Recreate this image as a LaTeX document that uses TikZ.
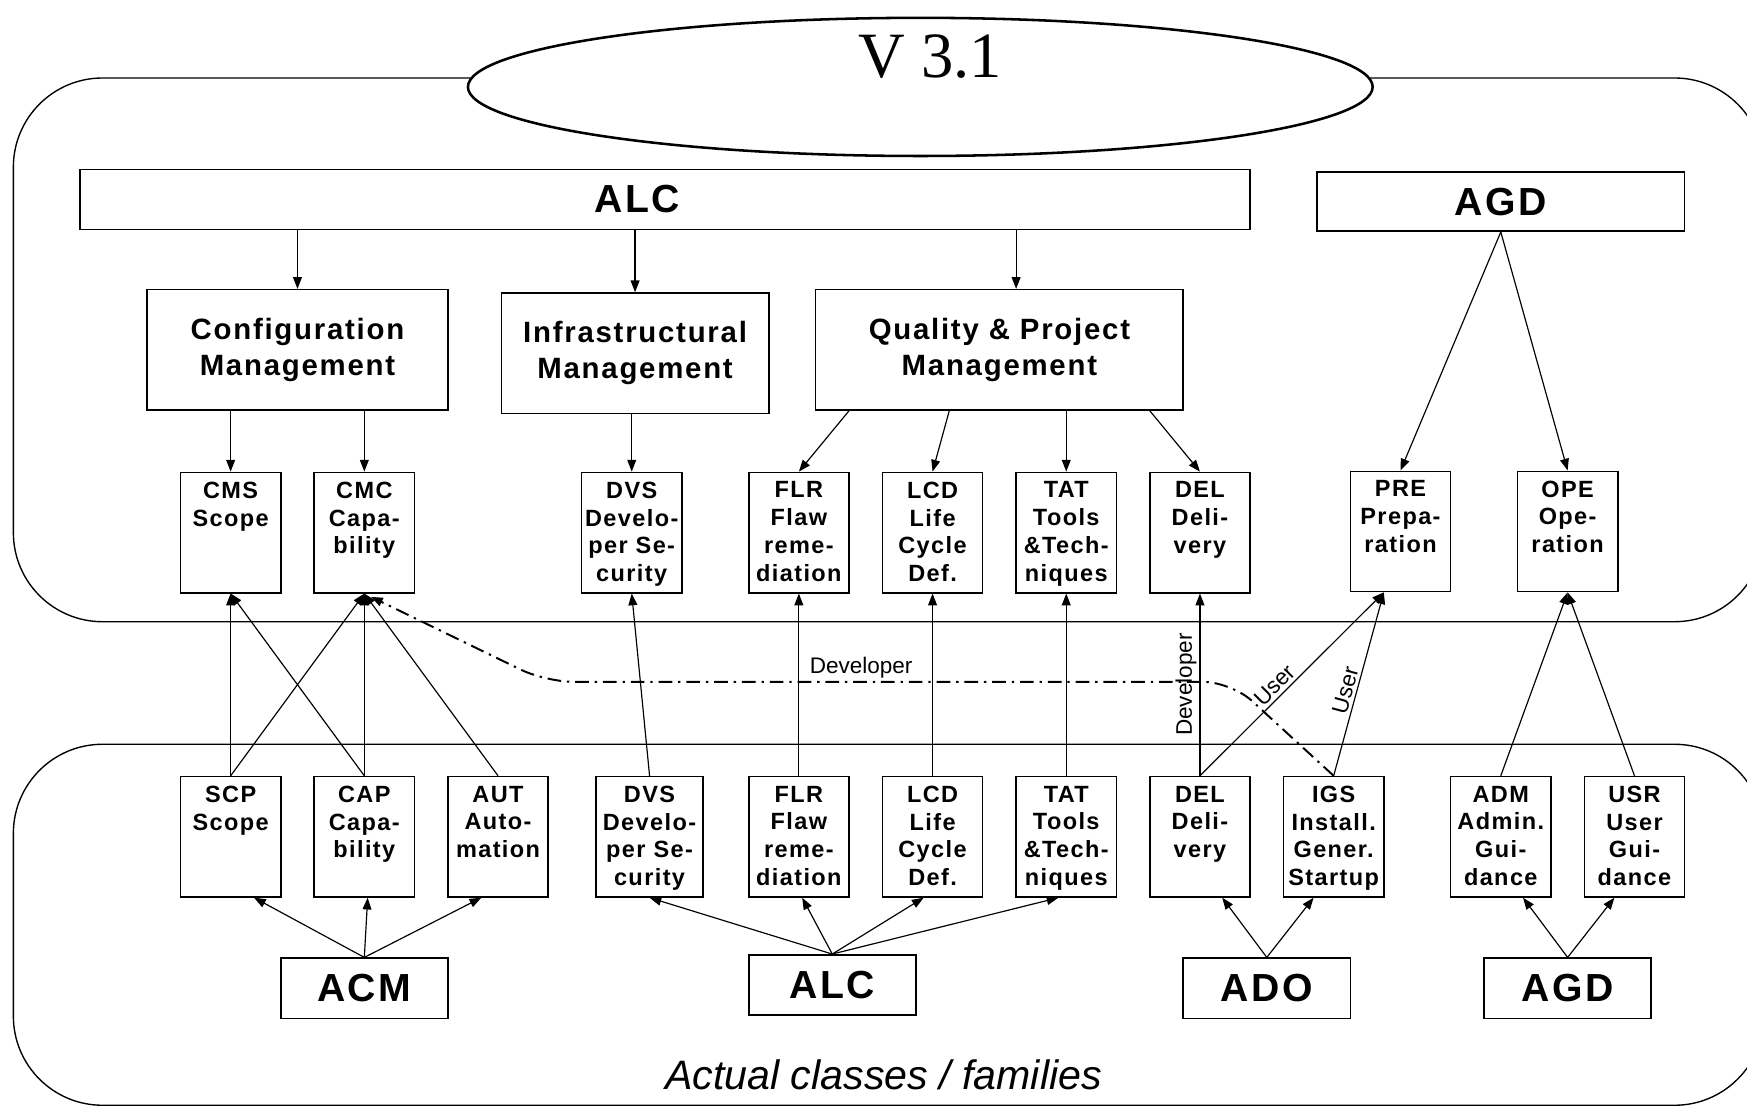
\documentclass[tikz,border=0pt]{standalone}
\usepackage{fontspec}
\setmainfont{Liberation Sans}[BoldFeatures={LetterSpace=6}]
\newfontfamily\verfont{Liberation Serif}
\usetikzlibrary{positioning,arrows.meta,calc,shapes.geometric}

\begin{document}
\begin{tikzpicture}[x=0.2mm, y=-0.2mm,
  fam/.style={draw, line width=0.8pt, minimum width=1.8cm, minimum height=2.16cm, inner sep=0pt},
  famtxt/.style={anchor=north, align=center, inner xsep=0pt, inner ysep=5pt,
                 font=\bfseries\fontsize{12}{14.2}\selectfont},
  mgmt/.style={draw, line width=0.8pt, minimum height=2.16cm, align=center,
               font=\bfseries\fontsize{15}{18.2}\selectfont},
  cls/.style={draw, line width=0.8pt, minimum width=3cm, minimum height=1.08cm,
              font=\bfseries\fontsize{20}{24}\selectfont},
  frame/.style={draw, line width=0.7pt, rounded corners=1.6cm},
  arr/.style={-{Triangle[length=6pt,width=4.5pt]}, line width=0.6pt},
  devline/.style={arr, line width=1pt, dash pattern=on 7pt off 3pt on 1.2pt off 3pt,
                  rounded corners=0.5cm},
  lbl/.style={font=\fontsize{11.5}{13}\selectfont, inner sep=1.5pt}
]
\useasboundingbox (0,0) rectangle (1568,994);
\clip (0,0) rectangle (1568,994);

% frames
\draw[frame] (12,70) rectangle (1583,558);
\draw[frame] (12,668) rectangle (1583,992);
\node[ellipse, draw, fill=white, line width=1.3pt, minimum width=16.24cm, minimum height=2.48cm] (ver) at (826,78) {};
\node[font=\verfont\fontsize{33}{33}\selectfont] (vertxt) at (835,51) {V 3.1};

% target classes
\node[draw, line width=0.8pt, minimum width=21cm, minimum height=1.08cm,
      font=\bfseries\fontsize{20}{24}\selectfont] (alc) at (597,179) {\hspace*{-1cm}ALC};
\node[draw, line width=0.8pt, minimum width=6.6cm, minimum height=1.06cm,
      font=\bfseries\fontsize{20}{24}\selectfont] (agd) at (1347,181) {AGD};

\node[mgmt, minimum width=5.4cm] (cfg) at (267,314) {Configuration\\Management};
\node[mgmt, minimum width=4.8cm] (infra) at (570,317) {Infrastructural\\Management};
\node[mgmt, minimum width=6.6cm] (qpm) at (897,314) {Quality \& Project\\Management};

% target families
\node[fam, label={[famtxt]north:{CMS\\Scope}}] (cms) at (207,478) {};
\node[fam, label={[famtxt]north:{CMC\\Capa-\\bility}}] (cmc) at (327,478) {};
\node[fam, label={[famtxt]north:{DVS\\Develo-\\per Se-\\curity}}] (dvsT) at (567,478) {};
\node[fam, label={[famtxt]north:{FLR\\Flaw\\reme-\\diation}}] (flrT) at (717,478) {};
\node[fam, label={[famtxt]north:{LCD\\Life\\Cycle\\Def.}}] (lcdT) at (837,478) {};
\node[fam, label={[famtxt]north:{TAT\\Tools\\\&Tech-\\niques}}] (tatT) at (957,478) {};
\node[fam, label={[famtxt]north:{DEL\\Deli-\\very}}] (delT) at (1077,478) {};
\node[fam, label={[famtxt]north:{PRE\\Prepa-\\ration}}] (pre) at (1257,477) {};
\node[fam, label={[famtxt]north:{OPE\\Ope-\\ration}}] (ope) at (1407,477) {};

% actual families
\node[fam, label={[famtxt]north:{SCP\\Scope}}] (scp) at (207,751) {};
\node[fam, label={[famtxt]north:{CAP\\Capa-\\bility}}] (cap) at (327,751) {};
\node[fam, label={[famtxt]north:{AUT\\Auto-\\mation}}] (aut) at (447,751) {};
\node[fam, minimum width=1.92cm, label={[famtxt]north:{DVS\\Develo-\\per Se-\\curity}}] (dvsB) at (583,751) {};
\node[fam, label={[famtxt]north:{FLR\\Flaw\\reme-\\diation}}] (flrB) at (717,751) {};
\node[fam, label={[famtxt]north:{LCD\\Life\\Cycle\\Def.}}] (lcdB) at (837,751) {};
\node[fam, label={[famtxt]north:{TAT\\Tools\\\&Tech-\\niques}}] (tatB) at (957,751) {};
\node[fam, label={[famtxt]north:{DEL\\Deli-\\very}}] (delB) at (1077,751) {};
\node[fam, label={[famtxt]north:{IGS\\Install.\\Gener.\\Startup}}] (igs) at (1197,751) {};
\node[fam, label={[famtxt]north:{ADM\\Admin.\\Gui-\\dance}}] (adm) at (1347,751) {};
\node[fam, label={[famtxt]north:{USR\\User\\Gui-\\dance}}] (usr) at (1467,751) {};

% actual classes
\node[cls] (acm) at (327,887) {ACM};
\node[cls] (alcB) at (747,884) {ALC};
\node[cls] (ado) at (1137,887) {ADO};
\node[cls] (agdB) at (1407,887) {AGD};

\node[font=\itshape\fontsize{21}{24}\selectfont] (caption) at (793,965) {Actual classes / families};

% top tree
\draw[arr] (cfg.north |- alc.south) -- (cfg.north);
\draw[arr] (infra.north |- alc.south) -- (infra.north);
\draw[arr] ($(qpm.north |- alc.south)+(15,0)$) -- ($(qpm.north)+(15,0)$);
\draw[arr] (cms.north |- cfg.south) -- (cms.north);
\draw[arr] (cmc.north |- cfg.south) -- (cmc.north);
\draw[arr] (dvsT.north |- infra.south) -- (dvsT.north);
\draw[arr] ($(qpm.south)+(-135,0)$) -- (flrT.north);
\draw[arr] ($(qpm.south)+(-45,0)$) -- (lcdT.north);
\draw[arr] (tatT.north |- qpm.south) -- (tatT.north);
\draw[arr] ($(qpm.south)+(135,0)$) -- (delT.north);
\draw[arr] (agd.south) -- (pre.north);
\draw[arr] (agd.south) -- (ope.north);

% mapping actual -> target
\draw[arr] (scp.north) -- (cms.south);
\draw[arr] (scp.north) -- (cmc.south);
\draw[arr] (cap.north) -- (cms.south);
\draw[arr] (cap.north) -- (cmc.south);
\draw[arr] (aut.north) -- (cmc.south);
\draw[arr] (dvsB.north) -- (dvsT.south);
\draw[arr] (flrB.north) -- (flrT.south);
\draw[arr] (lcdB.north) -- (lcdT.south);
\draw[arr] (tatB.north) -- (tatT.south);
\draw[arr] (delB.north) -- node[lbl, sloped, above] {Developer} (delT.south);
\draw[arr] (delB.north) -- node[lbl, sloped, above, pos=0.45] {User} ($(pre.south)+(-15,0)$);
\draw[arr] (igs.north) -- node[lbl, sloped, above, pos=0.45] {User} ($(pre.south)+(-15,0)$);
\draw[arr] (adm.north) -- (ope.south);
\draw[arr] (usr.north) -- (ope.south);
\draw[devline] (igs.north) -- (1105,612) -- node[lbl, above, pos=0.54] {Developer} (490,612) -- ($(cmc.south)+(6,3)$);

% bottom tree
\draw[arr] (acm.north) -- ($(scp.south)+(21,0)$);
\draw[arr] (acm.north) -- ($(cap.south)+(3,0)$);
\draw[arr] (acm.north) -- ($(aut.south)+(-15,0)$);
\draw[arr] (alcB.north) -- (dvsB.south);
\draw[arr] (alcB.north) -- ($(flrB.south)+(3,0)$);
\draw[arr] (alcB.north) -- ($(lcdB.south)+(-8,0)$);
\draw[arr] (alcB.north) -- ($(tatB.south)+(-7,0)$);
\draw[arr] (ado.north) -- ($(delB.south)+(20,0)$);
\draw[arr] (ado.north) -- ($(igs.south)+(-18,0)$);
\draw[arr] (agdB.north) -- ($(adm.south)+(20,0)$);
\draw[arr] (agdB.north) -- ($(usr.south)+(-18,0)$);
\end{tikzpicture}
\end{document}
